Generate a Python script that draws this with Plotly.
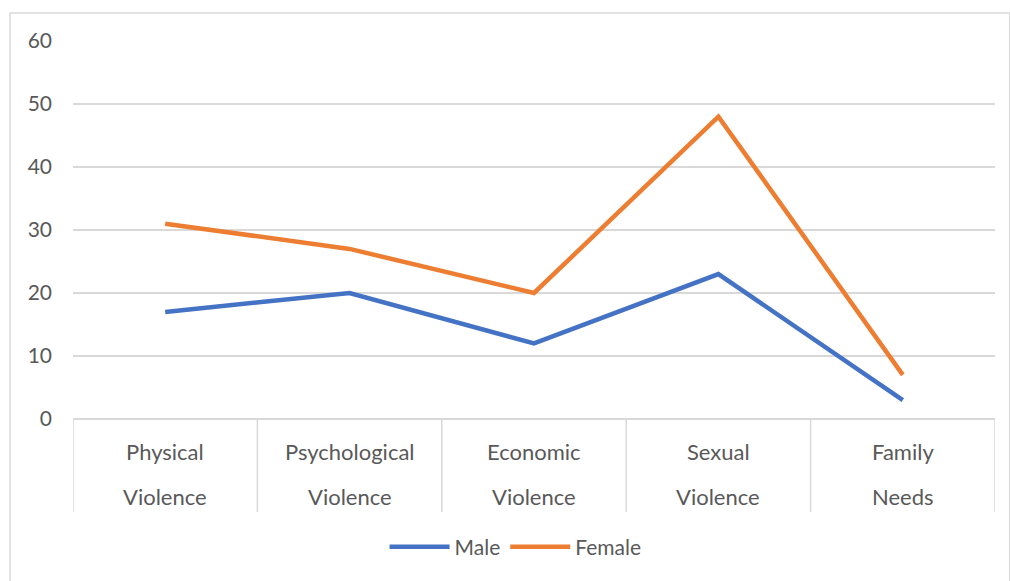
import plotly.graph_objects as go

categories_line1 = ["Physical", "Psychological", "Economic", "Sexual", "Family"]
categories_line2 = ["Violence", "Violence", "Violence", "Violence", "Needs"]
male = [17, 20, 12, 23, 3]
female = [31, 27, 20, 48, 7]
y_ticks = [0, 10, 20, 30, 40, 50, 60]

FONT = "Lato, 'Open Sans', sans-serif"
TXT = "#595959"
GRID = "#D9D9D9"

xs = list(range(len(categories_line1)))

fig = go.Figure()
fig.add_trace(go.Scatter(x=xs, y=male, mode="lines", name="Male",
                         line=dict(color="#4472C4", width=4.5)))
fig.add_trace(go.Scatter(x=xs, y=female, mode="lines", name="Female",
                         line=dict(color="#ED7D31", width=4.5)))

shapes = []
for i in range(len(xs) + 1):
    shapes.append(dict(type="line", xref="x", yref="paper",
                       x0=i - 0.5, x1=i - 0.5, y0=0, y1=-0.246,
                       line=dict(color=GRID, width=1.5)))
shapes.append(dict(type="rect", xref="paper", yref="paper",
                   x0=-0.0683, x1=1.016, y0=-0.45, y1=1.074,
                   line=dict(color=GRID, width=1.5), layer="below"))

annotations = []
for i, (a, b) in enumerate(zip(categories_line1, categories_line2)):
    annotations.append(dict(x=i, y=-0.0847, xref="x", yref="paper", text=a,
                            showarrow=False, yanchor="middle",
                            font=dict(family=FONT, size=22, color=TXT)))
    annotations.append(dict(x=i, y=-0.204, xref="x", yref="paper", text=b,
                            showarrow=False, yanchor="middle",
                            font=dict(family=FONT, size=22, color=TXT)))

fig.update_layout(
    width=1010, height=581,
    margin=dict(l=73, r=15, t=41, b=162),
    paper_bgcolor="white", plot_bgcolor="white",
    font=dict(family=FONT, size=21, color=TXT),
    xaxis=dict(range=[-0.5, len(xs) - 0.5], showgrid=False, zeroline=False,
               showticklabels=False, ticks="", showline=False, fixedrange=True),
    yaxis=dict(range=[0, 60], tickvals=y_ticks, showgrid=True, gridcolor=GRID,
               gridwidth=1.5, zeroline=True, zerolinecolor=GRID, zerolinewidth=1.5,
               showline=False, ticks="", ticklabelstandoff=20,
               tickfont=dict(family=FONT, size=21, color=TXT)),
    legend=dict(orientation="h", xanchor="center", yanchor="middle",
                x=0.48, y=-0.339, font=dict(family=FONT, size=21, color=TXT),
                itemwidth=60, bgcolor="rgba(0,0,0,0)"),
    shapes=shapes,
    annotations=annotations,
)

fig.write_html("out.html")
